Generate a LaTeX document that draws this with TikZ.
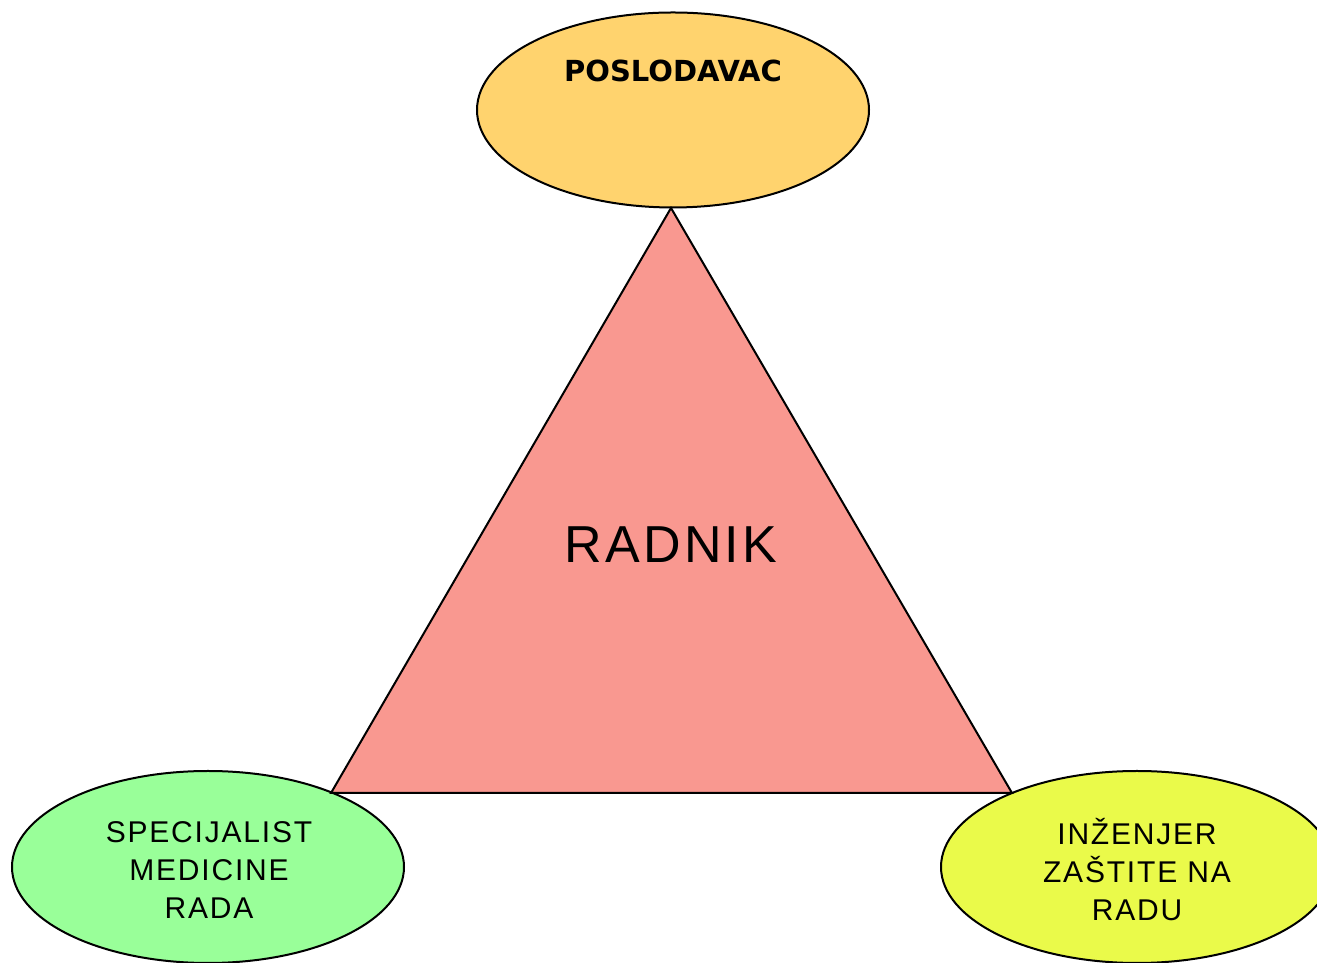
\documentclass[tikz,border=0pt]{standalone}
\usepackage{fontspec}
\setmainfont{Liberation Sans}[LetterSpace=6]
\newfontfamily\naslovfont{DejaVu Sans}
\usetikzlibrary{shapes.geometric}
\usetikzlibrary{positioning}
\definecolor{poslodavacOrange}{RGB}{255, 211, 110}
\definecolor{radnikRed}{RGB}{249, 152, 144}
\definecolor{medicinaGreen}{RGB}{153, 255, 153}
\definecolor{zastitaYellow}{RGB}{234, 250, 74}

\begin{document}
\begin{tikzpicture}[x=1pt, y=1pt,
      uloga/.style={draw, ellipse, line width=2pt, inner sep=0pt,
                    minimum width=392pt, minimum height=192pt},
      ulogaText/.style={align=center, font=\fontsize{30}{38}\selectfont}]
      \useasboundingbox (0,0) rectangle (1317,963);

      \node [uloga, fill=poslodavacOrange, minimum height=195pt]
            (poslodavac) at (673,853) {};
      \node [font=\naslovfont\bfseries\fontsize{29}{34}\selectfont]
            (poslodavacText) at (673,892) {POSLODAVAC};

      \node [uloga, fill=medicinaGreen] (specijalist) at (208,96) {};
      \node [ulogaText] (specijalistText) at (209,93)
            {SPECIJALIST\\MEDICINE\\RADA};
      \node [uloga, fill=zastitaYellow] (inzenjer) at (1137,96) {};
      \node [ulogaText] (inzenjerText) at (1137,93)
            {INŽENJER\\ZAŠTITE NA\\RADU};

      \coordinate (vrh) at (671,755);
      \coordinate (lijevo) at (331,170);
      \coordinate (desno) at (1012,170);
      \draw [fill=radnikRed, line width=2pt, line join=miter]
            (vrh) -- (desno) -- (lijevo) -- cycle;
      \node [font=\fontsize{52}{60}\selectfont] (radnik) at (671,418)
            {RADNIK};
    \end{tikzpicture}
\end{document}
